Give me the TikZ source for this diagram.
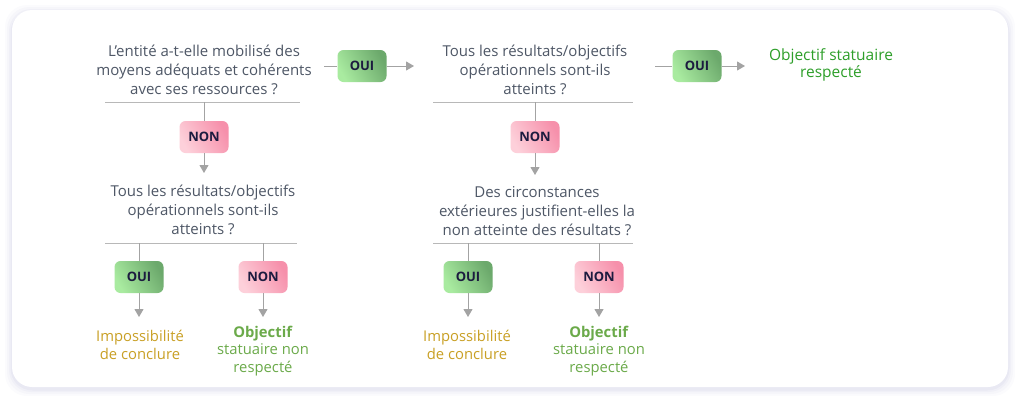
\documentclass[tikz,border=0pt]{standalone}
\usepackage{fontspec}
\setmainfont{Open Sans}
\usetikzlibrary{arrows.meta}
\definecolor{qtext}{HTML}{4E5766}
\definecolor{linec}{HTML}{A3A3A3}
\definecolor{barc}{HTML}{B8B8B8}
\definecolor{navy}{HTML}{1C1B3F}
\definecolor{gA}{HTML}{A9EBA0}
\definecolor{gB}{HTML}{6CA96C}
\definecolor{pA}{HTML}{FDD0DA}
\definecolor{pB}{HTML}{F690AB}
\definecolor{topgreen}{HTML}{2E9F2A}
\definecolor{lowgreen}{HTML}{6BAA4A}
\definecolor{gold}{HTML}{C9A025}
\definecolor{shadowc}{HTML}{D8D8EA}
\begin{document}
\begin{tikzpicture}[x=1pt,y=-1pt,
  q/.style={align=center, text=qtext, font=\fontsize{15}{18.8}\selectfont, inner sep=0pt},
  res/.style={align=center, font=\fontsize{14.8}{17.8}\selectfont, inner sep=0pt},
  boxbase/.style={rounded corners=6pt, minimum width=49pt, minimum height=32pt, inner sep=0pt,
     text=navy, font=\fontsize{13}{15}\selectfont\bfseries},
  oui/.style={boxbase, left color=gA, right color=gB, shading angle=120},
  non/.style={boxbase, left color=pA, right color=pB, shading angle=120},
  bar/.style={draw=barc, line width=1pt},
  conn/.style={draw=linec, line width=1pt},
  arr/.style={draw=linec, line width=1pt, -{Triangle[length=8pt,width=9pt]}, fill=linec}
]
\useasboundingbox (0,0) rectangle (1024,405);
% card with soft shadow
\foreach \i/\o in {7/0.10,5/0.14,3/0.2,1.5/0.3}{
  \fill[shadowc, opacity=\o, rounded corners=22pt] (12-\i,10-\i+2) rectangle (1008+\i,387+\i+2);
}
\fill[white, rounded corners=20pt] (12,10) rectangle (1008,387);

% ---- question 1
\node[q] (q1) at (204,70) {L’entité a-t-elle mobilisé des\\moyens adéquats et cohérents\\avec ses ressources ?};
\coordinate (b1l) at (105,102); \coordinate (b1r) at (300,102); \coordinate (b1m) at (204,102);
\draw[bar] (b1l) -- (b1r);
\node[oui] (o1) at (362,66) {OUI};
\coordinate (h1s) at (324,66); \coordinate (h1e) at (414,66);
\draw[conn] (h1s) -- (o1.west);
\draw[arr] (o1.east) -- (h1e);
\node[non] (n1) at (204,137) {NON};
\draw[conn] (b1m) -- (n1.north);
\coordinate (v1e) at (204,173);
\draw[arr] (n1.south) -- (v1e);

% ---- question 2 (left bottom)
\node[q] (q2) at (203,210) {Tous les résultats/objectifs\\opérationnels sont-ils\\atteints ?};
\coordinate (b2l) at (105,243); \coordinate (b2r) at (297,243);
\coordinate (b2a) at (139,243); \coordinate (b2b) at (263,243);
\draw[bar] (b2l) -- (b2r);
\node[oui] (o2) at (139,277) {OUI};
\node[non] (n2) at (263,277) {NON};
\draw[conn] (b2a) -- (o2.north);
\draw[conn] (b2b) -- (n2.north);
\coordinate (o2e) at (139,317); \coordinate (n2e) at (263,317);
\draw[arr] (o2.south) -- (o2e);
\draw[arr] (n2.south) -- (n2e);
\node[res, text=gold] (r1) at (140,345) {Impossibilité\\de conclure};
\node[res, text=lowgreen] (r2) at (263,351) {\textbf{Objectif}\\statuaire non\\respecté};

% ---- question 3 (top middle)
\node[q] (q3) at (535,70) {Tous les résultats/objectifs\\opérationnels sont-ils\\atteints ?};
\coordinate (b3l) at (433,102); \coordinate (b3r) at (633,102); \coordinate (b3m) at (535,102);
\draw[bar] (b3l) -- (b3r);
\node[oui] (o3) at (697,66) {OUI};
\coordinate (h3s) at (655,66); \coordinate (h3e) at (745,66);
\draw[conn] (h3s) -- (o3.west);
\draw[arr] (o3.east) -- (h3e);
\node[res, text=topgreen, font=\fontsize{15.5}{17.5}\selectfont] (r0) at (831,65) {Objectif statuaire\\respecté};
\node[non] (n3) at (535,137) {NON};
\draw[conn] (b3m) -- (n3.north);
\coordinate (v3e) at (535,175);
\draw[arr] (n3.south) -- (v3e);

% ---- question 4 (bottom middle)
\node[q] (q4) at (537,211) {Des circonstances\\extérieures justifient-elles la\\non atteinte des résultats ?};
\coordinate (b4l) at (433,243); \coordinate (b4r) at (633,243);
\coordinate (b4a) at (468,243); \coordinate (b4b) at (599,243);
\draw[bar] (b4l) -- (b4r);
\node[oui] (o4) at (468,277) {OUI};
\node[non] (n4) at (599,277) {NON};
\draw[conn] (b4a) -- (o4.north);
\draw[conn] (b4b) -- (n4.north);
\coordinate (o4e) at (468,317); \coordinate (n4e) at (599,317);
\draw[arr] (o4.south) -- (o4e);
\draw[arr] (n4.south) -- (n4e);
\node[res, text=gold] (r3) at (467,345) {Impossibilité\\de conclure};
\node[res, text=lowgreen] (r4) at (599,351) {\textbf{Objectif}\\statuaire non\\respecté};
\end{tikzpicture}
\end{document}
